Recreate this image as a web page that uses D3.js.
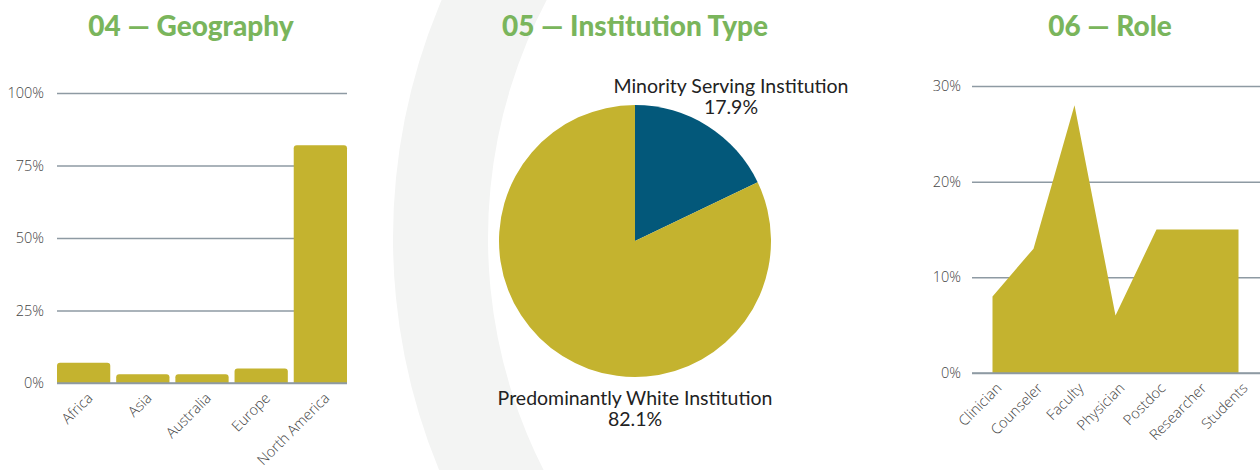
<!DOCTYPE html>
<html lang="en">
<head>
    <meta charset="UTF-8">
    <title>Geography, Institution Type, Role</title>
    <script src="https://d3js.org/d3.v7.min.js"></script>
    <style>
        body { margin: 0; background: #fff; }
        .title { font-family: Lato, sans-serif; font-weight: 900; fill: #7ab55c; font-size: 28px; }
        .tick text { font-family: "Open Sans", sans-serif; font-weight: 300; fill: #444; font-size: 14.5px; }
        .pielabel { font-family: Lato, sans-serif; fill: #222; font-size: 19.5px; }
    </style>
</head>
<body>
    <div id="chart"></div>

    <script>
        // Data
        const geoCategories = ["Africa", "Asia", "Australia", "Europe", "North America"];
        const geoValues = [7, 3, 3, 5, 82];
        const geoTicks = [0, 25, 50, 75, 100];

        const instCategories = ["Minority Serving Institution", "Predominantly White Institution"];
        const instValues = [17.9, 82.1];

        const roleCategories = ["Clinician", "Counseler", "Faculty", "Physician", "Postdoc", "Researcher", "Students"];
        const roleValues = [8, 13, 28, 6, 15, 15, 15];
        const roleTicks = [0, 10, 20, 30];

        const gold = "#c4b32f", navy = "#03587a", grid = "#8e9aa3";

        const svg = d3.select("#chart")
            .append("svg")
            .attr("width", 1260)
            .attr("height", 470);

        // background ring
        svg.append("path")
            .attr("transform", "translate(1000,238)")
            .attr("d", d3.arc()({innerRadius: 512, outerRadius: 607, startAngle: 0, endAngle: 2 * Math.PI}))
            .attr("fill", "#f3f4f3");

        // titles
        svg.append("text").attr("class", "title").attr("x", 191).attr("y", 36).attr("text-anchor", "middle").text("04 — Geography");
        svg.append("text").attr("class", "title").attr("x", 635).attr("y", 36).attr("text-anchor", "middle").text("05 — Institution Type");
        svg.append("text").attr("class", "title").attr("x", 1110).attr("y", 36).attr("text-anchor", "middle").text("06 — Role");

        function styleAxis(g) {
            g.select(".domain").remove();
            g.selectAll(".tick line").attr("stroke", grid).attr("stroke-width", 1.5);
        }

        function xLabels(g, x, categories, baseline) {
            g.selectAll(".xlab")
                .data(categories)
                .enter()
                .append("text")
                .attr("class", "xlab")
                .attr("transform", d => `translate(${x(d) + x.bandwidth() / 2 + 10},${baseline + 16}) rotate(-45)`)
                .attr("text-anchor", "end")
                .style("font-family", "'Open Sans', sans-serif")
                .style("font-weight", 300)
                .style("font-size", "14.5px")
                .style("fill", "#444")
                .text(d => d);
        }

        // ---- 04 Geography (bar) ----
        {
            const left = 57, right = 347, top = 93, bottom = 383;
            const x = d3.scaleBand().domain(geoCategories).range([left, right]).paddingInner(0.1).paddingOuter(0);
            const y = d3.scaleLinear().domain([0, 100]).range([bottom, top]);

            svg.append("g")
                .attr("transform", `translate(${left},0)`)
                .call(d3.axisLeft(y).tickValues(geoTicks).tickSize(-(right - left)).tickPadding(13).tickFormat(d => d + "%"))
                .call(styleAxis);

            svg.selectAll(".geobar")
                .data(geoValues)
                .enter()
                .append("path")
                .attr("class", "geobar")
                .attr("fill", gold)
                .attr("d", (d, i) => {
                    const x0 = x(geoCategories[i]), w = x.bandwidth(), y0 = y(d), h = y(0) - y(d), r = 3;
                    return `M${x0},${y0 + h}V${y0 + r}Q${x0},${y0} ${x0 + r},${y0}H${x0 + w - r}Q${x0 + w},${y0} ${x0 + w},${y0 + r}V${y0 + h}Z`;
                });

            svg.append("line")
                .attr("x1", left).attr("x2", right)
                .attr("y1", y(0)).attr("y2", y(0))
                .attr("stroke", grid).attr("stroke-width", 1.5);

            xLabels(svg.append("g"), x, geoCategories, bottom);
        }

        // ---- 05 Institution Type (pie) ----
        {
            const cx = 635, cy = 241, r = 136;
            const pie = d3.pie().sort(null).value(d => d);
            const arcs = pie(instValues);
            const arc = d3.arc().innerRadius(0).outerRadius(r);
            const colors = [navy, gold];

            const g = svg.append("g").attr("transform", `translate(${cx},${cy})`);
            g.selectAll("path")
                .data(arcs)
                .enter()
                .append("path")
                .attr("d", arc)
                .attr("fill", (d, i) => colors[i]);

            // labels
            const outer = d3.arc().innerRadius(r + 44).outerRadius(r + 44);
            const pos = [outer.centroid(arcs[0]), [0, r + 28]];
            pos[0][1] += 4;
            arcs.forEach((a, i) => {
                const t = g.append("text")
                    .attr("class", "pielabel")
                    .attr("text-anchor", "middle")
                    .attr("transform", `translate(${pos[i][0]},${pos[i][1]})`);
                t.append("tspan").attr("x", 0).attr("dy", "0").text(instCategories[i]);
                t.append("tspan").attr("x", 0).attr("dy", "1.07em").text(instValues[i].toFixed(1) + "%");
            });
        }

        // ---- 06 Role (area) ----
        {
            const left = 972, right = 1259, top = 86, bottom = 373;
            const x = d3.scaleBand().domain(roleCategories).range([left, right]);
            const y = d3.scaleLinear().domain([0, 30]).range([bottom, top]);

            svg.append("g")
                .attr("transform", `translate(${left},0)`)
                .call(d3.axisLeft(y).tickValues(roleTicks).tickSize(-(1260 - left)).tickPadding(11).tickFormat(d => d + "%"))
                .call(styleAxis);

            const area = d3.area()
                .x((d, i) => x(roleCategories[i]) + x.bandwidth() / 2)
                .y0(y(0))
                .y1(d => y(d));

            svg.append("path")
                .datum(roleValues)
                .attr("fill", gold)
                .attr("d", area);

            svg.append("line")
                .attr("x1", left).attr("x2", 1260)
                .attr("y1", y(0)).attr("y2", y(0))
                .attr("stroke", grid).attr("stroke-width", 1.5);

            xLabels(svg.append("g"), x, roleCategories, bottom);
        }
    </script>
</body>
</html>
